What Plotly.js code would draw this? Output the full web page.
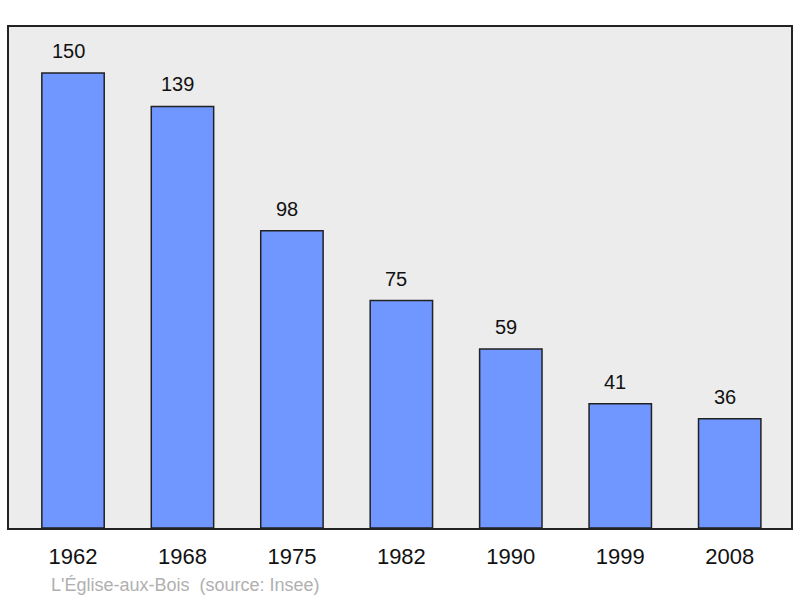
<!DOCTYPE html>
<html>
<head>
<meta charset="utf-8">
<script src="https://cdn.plot.ly/plotly-3.0.1.min.js"></script>
<style>html,body{margin:0;padding:0;background:#fff}#chart{width:800px;height:598px}</style>
</head>
<body>
<div id="chart"></div>
<script>
const years = ["1962", "1968", "1975", "1982", "1990", "1999", "2008"];
const population = [150, 139, 98, 75, 59, 41, 36];
const caption = "L'Église-aux-Bois &nbsp;(source: Insee)";

const FONT = "Liberation Sans, Arial, sans-serif";

const trace = {
  type: "bar",
  x: years,
  y: population,
  marker: { color: "#7096ff", line: { color: "#222222", width: 1.5 } },
  hoverinfo: "x+y"
};

const annotations = years.map((yr, i) => ({
  x: i, y: population[i], xref: "x", yref: "y",
  text: String(population[i]),
  showarrow: false, yanchor: "middle", yshift: 22, xshift: -5,
  font: { family: FONT, size: 20, color: "#111" }
}));
annotations.push({
  xref: "paper", yref: "paper", x: 0, y: 0,
  xanchor: "left", yanchor: "middle", xshift: 40, yshift: -57,
  text: caption, showarrow: false,
  font: { family: FONT, size: 18, color: "#b0b0b0" }
});

const layout = {
  width: 800, height: 598,
  margin: { l: 9, r: 9, t: 27, b: 70 },
  paper_bgcolor: "#ffffff",
  plot_bgcolor: "#ececec",
  bargap: 0.43,
  showlegend: false,
  font: { family: FONT },
  xaxis: {
    type: "category",
    range: [-0.585, 6.56],
    showgrid: false, zeroline: false,
    showline: true, mirror: true, linecolor: "#222222", linewidth: 2,
    ticks: "outside", ticklen: 8, tickcolor: "rgba(0,0,0,0)",
    tickfont: { family: FONT, size: 22, color: "#111" },
    fixedrange: true
  },
  yaxis: {
    range: [0, 165.2],
    showgrid: false, zeroline: false,
    showticklabels: false, ticks: "",
    showline: true, mirror: true, linecolor: "#222222", linewidth: 2,
    fixedrange: true
  },
  annotations: annotations
};

Plotly.newPlot("chart", [trace], layout, { displayModeBar: false, staticPlot: true });
</script>
</body>
</html>
